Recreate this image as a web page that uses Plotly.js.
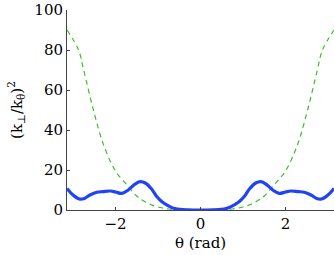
<!DOCTYPE html>
<html><head><meta charset="utf-8">
<script src="https://cdn.plot.ly/plotly-3.0.1.min.js"></script>
<style>body{margin:0;padding:0;background:#fff}</style>
</head><body><div id="chart" style="width:334px;height:255px"></div>
<script>
const thetaGreen = [-3.1416,-2.87,-2.75,-2.52,-2.28,-2.0,-1.73,-1.5,-1.25,-1.0,-0.75,-0.5,0,0.5,0.75,1.0,1.25,1.5,1.73,2.0,2.28,2.52,2.75,2.87,3.1416];
const valGreen = [90,80,70,50,32.5,19.5,12.5,7,3.5,1.5,0.5,0.1,0,0.1,0.5,1.5,3.5,7,12.5,19.5,32.5,50,70,80,90];
const thetaBlue = [-3.1416,-3.0,-2.85,-2.75,-2.6,-2.44,-2.3,-2.12,-2.0,-1.85,-1.7,-1.55,-1.42,-1.3,-1.15,-1.03,-0.9,-0.72,-0.6,-0.48,-0.3,0,0.3,0.48,0.6,0.72,0.9,1.03,1.15,1.3,1.42,1.55,1.7,1.85,2.0,2.12,2.3,2.44,2.6,2.75,2.85,3.0,3.1416];
const valBlue = [10.8,7.5,5.5,5.6,7.5,8.9,9.2,9.5,9,8.3,10,12.8,14.2,13.5,10.5,6.7,4,1.7,0.7,0.3,0.1,0,0.1,0.3,0.7,1.7,4,6.7,10.5,13.5,14.2,12.8,10,8.3,9,9.5,9.2,8.9,7.5,5.6,5.5,7.5,10.8];
const xTicks = [-2,0,2];
const yTicks = [0,20,40,60,80,100];

const font = {family:'DejaVu Serif', size:15, color:'#000'};
Plotly.newPlot('chart', [
  {x: thetaGreen, y: valGreen, mode:'lines', line:{color:'#3cbf28', width:1.2, dash:'5px,4px', shape:'spline'}, hoverinfo:'skip'},
  {x: thetaBlue, y: valBlue, mode:'lines', line:{color:'#2143f5', width:3.2, shape:'spline'}, hoverinfo:'skip'}
], {
  width:334, height:255,
  margin:{l:67, r:0, t:10, b:45},
  paper_bgcolor:'#fff', plot_bgcolor:'#fff',
  showlegend:false,
  font: font,
  xaxis:{range:[-Math.PI, Math.PI], tickvals:xTicks, ticktext:xTicks.map(v=>v<0?'\u2212'+Math.abs(v):String(v)),
    ticks:'inside', ticklen:3, tickcolor:'#444', showline:true, linecolor:'#444', linewidth:1,
    showgrid:false, zeroline:false, tickfont:font,
    title:{text:'\u03b8 (rad)', font:font, standoff:5}},
  yaxis:{range:[0,100], tickvals:yTicks, ticks:'inside', ticklen:3, tickcolor:'#444', showline:true, linecolor:'#444', linewidth:1,
    showgrid:false, zeroline:false, tickfont:font,
    title:{text:'(k<sub><span style="color:#000">\u22a5</span></sub>/k<sub>\u03b8</sub>)<sup>2</sup>', font:font, standoff:8}}
}, {displayModeBar:false});
</script></body></html>
